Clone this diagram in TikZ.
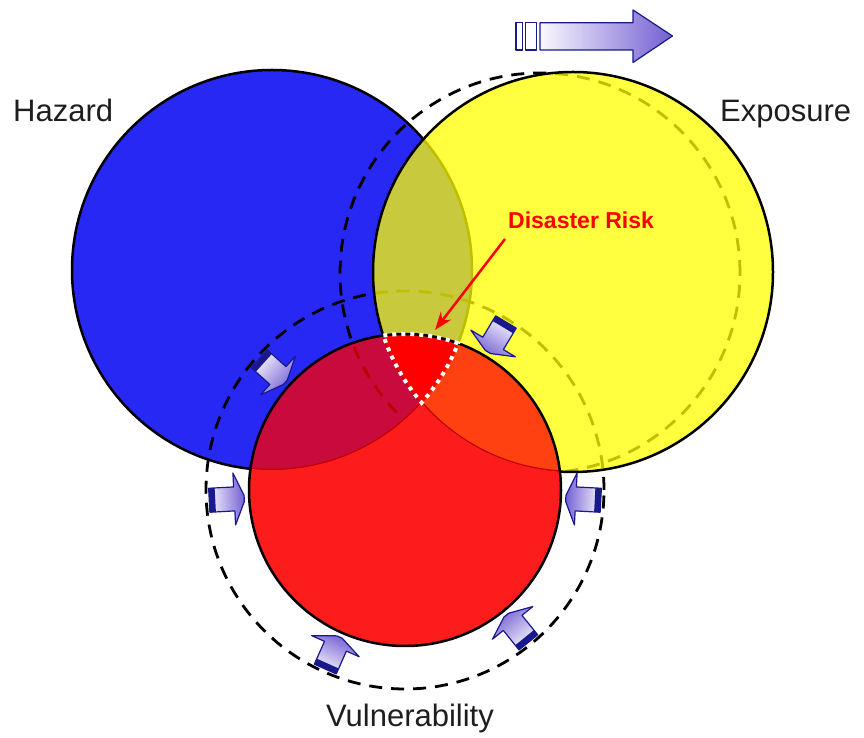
\documentclass[tikz,border=0pt]{standalone}
\usepackage{fontspec}
\setmainfont{Liberation Sans}
\usetikzlibrary{arrows.meta,calc}
\definecolor{hazblue}{RGB}{40,40,245}
\definecolor{expyellow}{RGB}{255,255,0}
\definecolor{vulred}{RGB}{255,0,0}
\definecolor{vulplain}{RGB}{252,28,28}
\definecolor{arrdark}{RGB}{25,25,140}
\definecolor{arrpurple}{RGB}{115,95,210}
\definecolor{arrlight}{RGB}{250,248,255}
\definecolor{labelgray}{RGB}{30,30,30}
\tikzset{
  ring/.style={line width=2.5pt, draw=black},
  dashring/.style={line width=2.8pt, draw=black, dash pattern=on 13pt off 9pt},
  lbl/.style={font=\fontsize{31}{36}\selectfont, text=labelgray, inner sep=0pt},
  risklbl/.style={font=\fontsize{23}{28}\selectfont\bfseries, text=vulred, inner sep=0pt},
  arrbody/.style={draw=arrdark, line width=1.2pt, line join=round},
  dotline/.style={draw=white, line width=4pt, dash pattern=on 4pt off 5pt},
}
\newcommand{\shiftarrow}[1]{%
  \pgfmathsetmacro\arrshade{#1+90}%
  \begin{scope}[shift={(405,248)}, rotate=#1, shift={(178,0)}, rotate=180]
    \path[bottom color=arrlight, top color=arrpurple, shading angle=\arrshade, arrbody]
      (-18,-12) -- (7,-12) -- (7,-26) -- (17,-3) -- (17,3) -- (7,26) -- (7,12) -- (-18,12) -- cycle;
    \fill[arrdark] (-18,-12) rectangle (-12,12);
  \end{scope}}
\begin{document}
\begin{tikzpicture}[x=1pt,y=1pt]
\useasboundingbox (0,0) rectangle (864,738);
% Hazard
\path[fill=hazblue, ring] (272,468) circle[radius=200];
% dashed shifted circles
\draw[dashring] (540,465) circle[radius=200];
\draw[dashring] (405,248) circle[radius=199];
% Exposure
\path[fill=expyellow, fill opacity=0.75, ring] (573,466) circle[radius=200];
% Vulnerability
\fill[vulred, fill opacity=0.75] (405,248) circle[radius=156];
\begin{scope}
  \clip (405,248) circle[radius=156];
  \fill[vulplain, even odd rule] (0,0) rectangle (864,738) (272,468) circle[radius=200] (573,466) circle[radius=200];
\end{scope}
% Disaster risk intersection
\fill[vulred] ($(405,248)+(97.98:156)$) arc[start angle=97.98, end angle=70.1, radius=156]
  arc[start angle=-21.5, end angle=-41.57, radius=200]
  arc[start angle=220.8, end angle=198.5, radius=200] -- cycle;
\draw[ring] (405,248) circle[radius=156];
\draw[dotline] ($(405,248)+(97.98:156)$) arc[start angle=97.98, end angle=70.1, radius=156]
  arc[start angle=-21.5, end angle=-41.57, radius=200]
  arc[start angle=220.8, end angle=198.5, radius=200] -- cycle;
% small shift arrows
\shiftarrow{138}
\shiftarrow{59}
\shiftarrow{183}
\shiftarrow{-3}
\shiftarrow{246}
\shiftarrow{309}
% big top arrow
\path[left color=arrlight, right color=arrpurple, arrbody]
  (540,688) -- (633,688) -- (633,675.5) -- (672.5,702) -- (633,728) -- (633,715.3) -- (540,715.3) -- cycle;
\draw[arrbody, fill=white] (516,688) rectangle (522.7,715.3);
\draw[arrbody, fill=white] (525.7,688) rectangle (536.7,715.3);
% labels
\node[lbl, anchor=base west] (hazard) at (13,616) {Hazard};
\node[lbl, anchor=base west] (exposure) at (720,616) {Exposure};
\node[lbl, anchor=base] (vulnerability) at (410,11) {Vulnerability};
\node[risklbl, anchor=base west] (risk) at (508,509) {Disaster Risk};
\coordinate (riskfrom) at (505,499);
\coordinate (risktip) at (435,408);
\draw[vulred, line width=2.5pt, -{Stealth[length=18pt, width=13pt]}] (riskfrom) -- (risktip);
\end{tikzpicture}
\end{document}
